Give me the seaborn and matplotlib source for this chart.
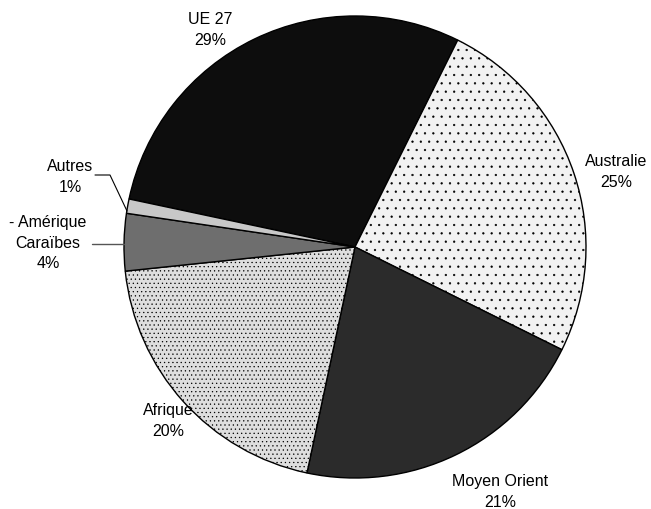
import numpy as np
import pandas as pd
import matplotlib
matplotlib.use("Agg")
import matplotlib.pyplot as plt
import seaborn as sns

# data
regions = ["UE 27", "Australie", "Moyen Orient", "Afrique", "- Amérique\nCaraïbes", "Autres"]
shares = [29, 25, 21, 20, 4, 1]
fills = ["#0d0d0d", "#f2f2f2", "#2b2b2b", "#dedede", "#6e6e6e", "#c8c8c8"]
hatches = ["", "..", "", "....", "", ""]

sns.set_theme(style="white")
plt.rcParams['font.family'] = ['Liberation Sans', 'DejaVu Sans']
plt.rcParams['hatch.linewidth'] = 0.4

fig = plt.figure(figsize=(6.51, 5.10), dpi=100)
ax = fig.add_axes([0, 0, 1, 1])

wedges, _ = ax.pie(shares, colors=fills, startangle=168, counterclock=False,
                   center=(355, 262), radius=231, frame=True,
                   wedgeprops=dict(edgecolor="black", linewidth=1))
for w, h in zip(wedges, hatches):
    if h:
        w.set_hatch(h)
ax.set_xlim(0, 651)
ax.set_ylim(0, 510)
ax.set_aspect("equal")
ax.axis("off")

# label positions (pixels, y from top)
label_pos = [(210, 30), (616, 172), (500, 492), (168, 421), (48, 243), (70, 177)]
for name, val, (x, y) in zip(regions, shares, label_pos):
    ax.text(x, 510 - y, f"{name}\n{val}%", ha="center", va="center",
            fontsize=11.5, linespacing=1.45, color="black")

# leader lines for small slices
ax.plot([95, 110, 127], [510 - 176, 510 - 176, 510 - 212], color="black", lw=0.8)
ax.plot([92, 124], [510 - 245, 510 - 245], color="#555555", lw=1)

fig.savefig("out.png", dpi=100)
